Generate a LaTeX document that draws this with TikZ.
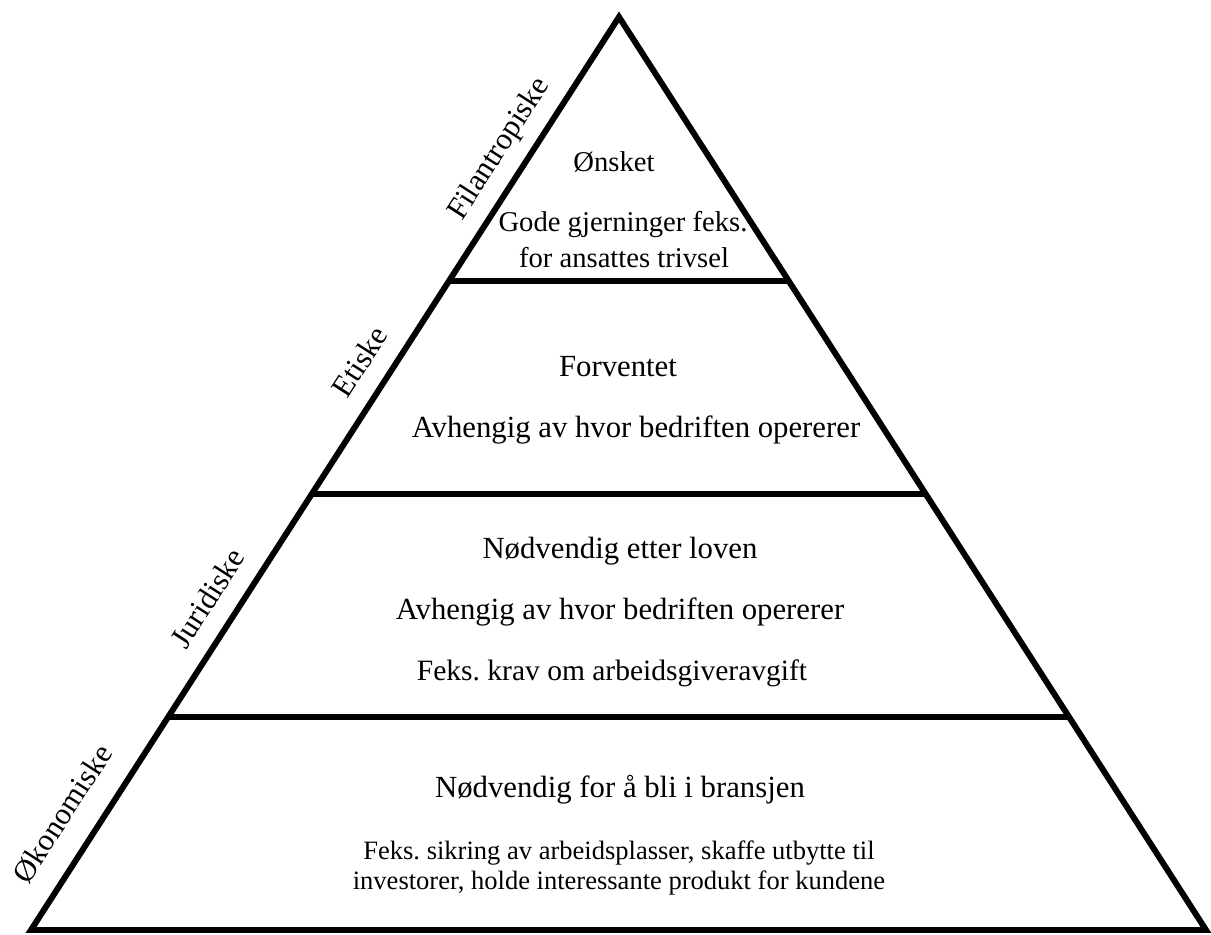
\documentclass[tikz,border=0pt]{standalone}
\usepackage{fontspec}
\setmainfont{Liberation Serif}
\usetikzlibrary{calc}
\frenchspacing

\tikzset{
  edgeline/.style={line width=3.4pt},
  txt/.style={font=\fontsize{17.5}{17}\selectfont,inner sep=0pt,anchor=base},
  txttop/.style={txt,font=\fontsize{16.3}{17}\selectfont},
  txtsmall/.style={txt,font=\fontsize{15.1}{17}\selectfont},
  sidelbl/.style={font=\fontsize{17.5}{17}\selectfont,inner sep=0pt,sloped,anchor=base,yshift=12pt}
}

\begin{document}
\begin{tikzpicture}[x=0.02cm,y=0.02cm]
\useasboundingbox (0,0) rectangle (1211,934);
\coordinate (apex) at (619,917);
\coordinate (bl) at (31,4);
\coordinate (br) at (1206,4);
\draw[edgeline] (apex) -- (bl) -- (br) -- cycle;
% skillelinjer
\foreach \t [count=\i] in {0.289,0.5225,0.7667}{
  \coordinate (sepL\i) at ($(apex)!\t!(bl)$);
  \coordinate (sepR\i) at ($(apex)!\t!(br)$);
  \draw[edgeline] (sepL\i) -- (sepR\i);
}
% nivaa-navn langs venstre side
\path (bl) -- (apex)
  node[sidelbl,pos=0.106,yshift=3pt] (okonomi) {Økonomiske}
  node[sidelbl,pos=0.345] (juridisk) {Juridiske}
  node[sidelbl,pos=0.604] (etisk) {Etiske}
  node[sidelbl,pos=0.838] (filantrop) {Filantropiske};
% tekst i hvert nivaa
\node[txttop] (onsket) at (614,762) {Ønsket};
\node[txttop] (gode) at (623,702) {Gode gjerninger feks.};
\node[txttop] (trivsel) at (624,666) {for ansattes trivsel};
\node[txt] (forventet) at (618,557) {Forventet};
\node[txt] (avhE) at (636,496) {Avhengig av hvor bedriften opererer};
\node[txt] (lov) at (620,375) {Nødvendig etter loven};
\node[txt] (avhJ) at (620,314) {Avhengig av hvor bedriften opererer};
\node[txt,font=\fontsize{16.8}{17}\selectfont] (krav) at (612,254) {Feks. krav om arbeidsgiveravgift};
\node[txt] (bransje) at (620,137) {Nødvendig for å bli i bransjen};
\node[txtsmall] (sikring) at (619,75) {Feks. sikring av arbeidsplasser, skaffe utbytte til};
\node[txtsmall] (kundene) at (619,45) {investorer, holde interessante produkt for kundene};
\end{tikzpicture}
\end{document}
